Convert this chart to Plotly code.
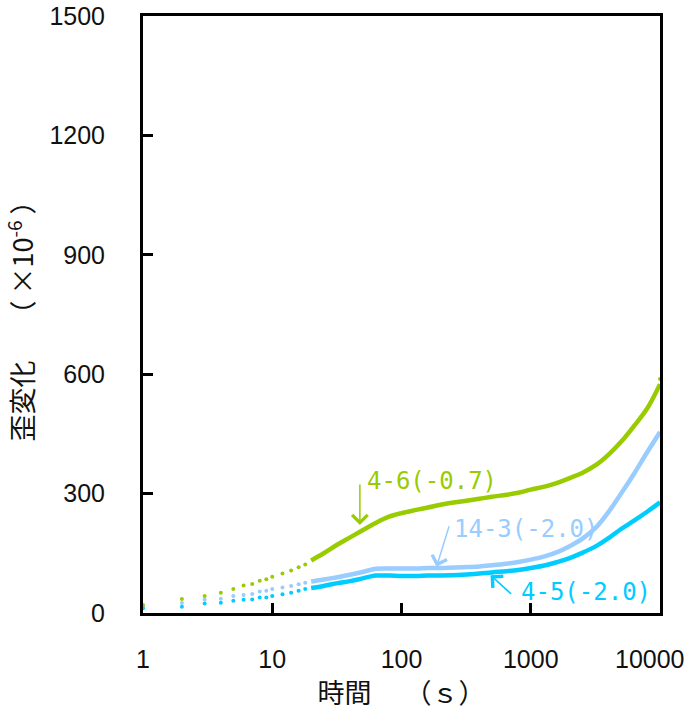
import plotly.graph_objects as go

# Early readings: sparse samples (one per second)
t_early = [1, 2, 3, 4, 5, 6, 7, 8, 9, 10, 12, 14, 16, 18]
g_early = [20, 35, 43, 51, 60, 69, 73, 81, 85, 91, 99, 107, 115, 122]
lb_early = [17, 25, 34, 36, 43, 45, 48, 54, 56, 60, 64, 68, 72, 76]
c_early = [12, 16, 24, 26, 31, 33, 34, 39, 39, 43, 47, 51, 56, 60]

# Dense readings (drawn as a continuous trace)
t_dense = [20, 25, 32, 40, 50, 63, 80, 100, 130, 160, 200, 300, 400, 500,
           650, 800, 1000, 1300, 1600, 2000, 2500, 3200, 4000, 5000, 6300,
           8000, 10000]
g_dense = [132, 150, 172, 190, 208, 226, 242, 251, 259, 265, 272, 281, 287,
           292, 297, 302, 310, 318, 327, 339, 352, 372, 398, 430, 470,
           515, 575]
lb_dense = [79, 84, 90, 96, 103, 111, 112, 112, 112, 113, 113, 115, 117,
            120, 124, 128, 134, 143, 153, 168, 186, 215, 254, 300, 350,
            405, 455]
c_dense = [63, 68, 75, 80, 87, 94, 94, 93, 93, 94, 94, 96, 99,
           102, 105, 108, 113, 120, 128, 138, 151, 168, 188, 211, 232,
           255, 278]

# Last green sample
g_last_t = [10000]
g_last_v = [588]

x_ticks = [1, 10, 100, 1000, 10000]
x_ticktext = ["1", "10", "100", "1000", "10000"]
y_ticks = [0, 300, 600, 900, 1200, 1500]

GREEN = "#99CC00"
LBLUE = "#99CCFF"
CYAN = "#00CCFF"

series = [
    ("14-3(-2.0)", LBLUE, lb_early, lb_dense),
    ("4-5(-2.0)", CYAN, c_early, c_dense),
    ("4-6(-0.7)", GREEN, g_early, g_dense),
]

fig = go.Figure()
for name, col, early, dense in series:
    fig.add_trace(go.Scatter(
        x=t_early, y=early, mode="markers", cliponaxis=False,
        marker=dict(color=col, size=4, line=dict(width=0)),
        showlegend=False, name=name))
    fig.add_trace(go.Scatter(
        x=t_dense, y=dense, mode="lines", cliponaxis=False,
        line=dict(color=col, width=4.5, shape="spline", smoothing=1.0),
        showlegend=False, name=name))
fig.add_trace(go.Scatter(
    x=g_last_t, y=g_last_v, mode="markers", cliponaxis=False,
    marker=dict(color=GREEN, size=4), showlegend=False))

tick_font = dict(family="Liberation Sans, Arial, sans-serif", size=25,
                 color="#111111")
title_font = dict(family="Noto Sans CJK JP", size=27, color="#111111")
label_font = "DejaVu Sans Mono"

# the rightmost tick label is drawn as a right-aligned note so it stays
# inside the page
last_label = x_ticktext[-1]
axis_ticktext = x_ticktext[:-1] + [""]

annotations = [
    # arrows
    dict(x=1.678, y=221, xref="x", yref="y", text="", showarrow=True,
         ax=0, ay=-42, arrowhead=4, arrowsize=2, arrowwidth=1.5,
         arrowcolor=GREEN),
    dict(x=2.271, y=116, xref="x", yref="y", text="", showarrow=True,
         ax=13, ay=-42, arrowhead=4, arrowsize=2, arrowwidth=1.5,
         arrowcolor=LBLUE),
    dict(x=2.689, y=95, xref="x", yref="y", text="", showarrow=True,
         ax=22, ay=20, arrowhead=4, arrowsize=2, arrowwidth=1.5,
         arrowcolor=CYAN),
    # labels
    dict(x=1.72, y=332, xref="x", yref="y", text="4-6(-0.7)",
         showarrow=False, xanchor="left", yanchor="middle",
         font=dict(family=label_font, size=24, color=GREEN)),
    dict(x=2.39, y=211, xref="x", yref="y", text="14-3(-2.0)",
         showarrow=False, xanchor="left", yanchor="middle",
         font=dict(family=label_font, size=24, color=LBLUE)),
    dict(x=2.91, y=54, xref="x", yref="y", text="4-5(-2.0)",
         showarrow=False, xanchor="left", yanchor="middle",
         font=dict(family=label_font, size=24, color=CYAN)),
    # rightmost x tick label
    dict(x=4, y=0, xref="x", yref="paper", text=last_label,
         showarrow=False, xanchor="right", yanchor="middle",
         xshift=27, yshift=-46, font=tick_font),
]

fig.update_layout(
    width=689, height=711,
    margin=dict(l=143, r=29, t=16, b=98),
    paper_bgcolor="white", plot_bgcolor="white",
    annotations=annotations,
    xaxis=dict(
        type="log", range=[0, 4], tickvals=x_ticks, ticktext=axis_ticktext,
        ticks="inside", ticklen=10, tickwidth=2.5, tickcolor="black",
        showline=True, linewidth=3, linecolor="black", mirror=True,
        showgrid=False, zeroline=False, tickfont=tick_font,
        ticklabelstandoff=22, automargin=False,
        title=dict(text="時間　 （ｓ）", font=title_font, standoff=10),
    ),
    yaxis=dict(
        range=[0, 1500], tickvals=y_ticks,
        ticks="inside", ticklen=10, tickwidth=2.5, tickcolor="black",
        showline=True, linewidth=3, linecolor="black", mirror=True,
        showgrid=False, zeroline=False, tickfont=tick_font,
        ticklabelstandoff=30, automargin=False,
        title=dict(text="歪変化　 （ ×10<sup>-6</sup> ）", font=title_font,
                   standoff=14),
    ),
)

fig.write_html("out.html")
